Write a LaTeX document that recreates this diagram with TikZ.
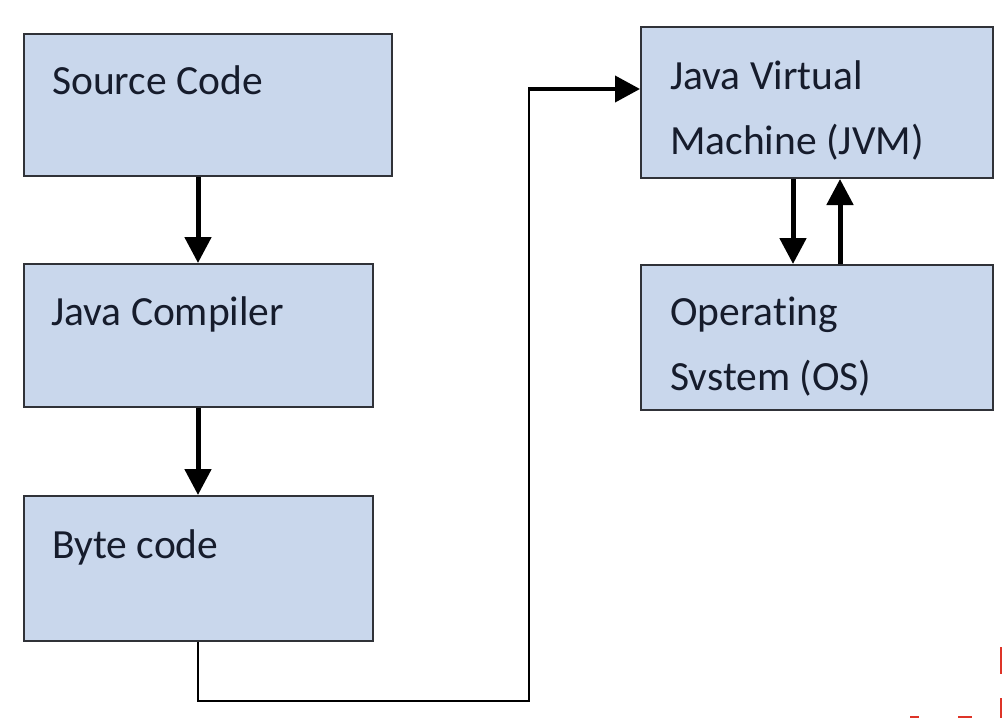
\documentclass[tikz,border=0pt]{standalone}
\usepackage{fontspec}
\setmainfont[Ligatures={NoCommon}]{Carlito}
\usetikzlibrary{arrows.meta}
\definecolor{boxfill}{RGB}{201,215,236}
\definecolor{boxline}{RGB}{48,50,56}
\definecolor{txt}{RGB}{22,28,44}
\definecolor{wm}{RGB}{222,52,40}
\tikzset{
  box/.style={draw=boxline, fill=boxfill, line width=2pt, rectangle, inner sep=0pt},
  lbl/.style={anchor=base west, inner sep=0pt, text=txt, font=\fontsize{41.5}{41.5}\selectfont},
  bigarrow/.style={line width=5pt, -{Triangle[width=26pt,length=26pt]}},
  thinline/.style={line width=2.2pt},
}
\begin{document}
\begin{tikzpicture}[x=1pt,y=-1pt]
\useasboundingbox (0,0) rectangle (1002,718);
\fill[white] (0,0) rectangle (1002,718);
% boxes
\node[box, minimum width=368pt, minimum height=142pt] (src) at (208,105) {};
\node[box, minimum width=349pt, minimum height=143pt] (comp) at (198.5,335.5) {};
\node[box, minimum width=349pt, minimum height=145pt] (byte) at (198.5,568.5) {};
\node[box, minimum width=352pt, minimum height=151pt] (jvm) at (817,102.5) {};
\node[box, minimum width=352pt, minimum height=145pt] (os) at (817,337.5) {};
% labels
\node[lbl] (tsrc) at (52,94) {Source Code};
\node[lbl] (tcomp) at (51,325) {Java Compiler};
\node[lbl] (tbyte) at (52,558) {Byte code};
\node[lbl] (tjvm1) at (670,89) {Java Virtual};
\node[lbl] (tjvm2) at (670,154) {Machine (JVM)};
\node[lbl] (tos1) at (670,325) {Operating};
\node[lbl] (tos2) at (670,390) {Svstem (OS)};
% arrows
\draw[bigarrow] (src.south -| 198,0) -- (comp.north -| 198,0);
\draw[bigarrow] (comp.south -| 198,0) -- (byte.north -| 198,0);
\draw[bigarrow] (jvm.south -| 793,0) -- (os.north -| 793,0);
\draw[bigarrow] (os.north -| 840,0) -- (jvm.south -| 840,0);
% long connector
\coordinate (c1) at (198,701);
\coordinate (c2) at (529,701);
\coordinate (c3) at (529,89);
\draw[thinline] (byte.south -| 198,0) -- (c1) -- (c2) -- (c3);
\draw[line width=4pt, -{Triangle[width=26pt,length=25pt]}] ([xshift=-1pt]c3) -- (jvm.west |- c3);
% watermark fragments
\fill[wm] (999.5,647) rectangle (1002,674);
\fill[wm] (999.5,698) rectangle (1002,718);
\fill[wm] (910,716) rectangle (919,718);
\fill[wm] (958,716) rectangle (972,718);
\end{tikzpicture}
\end{document}
